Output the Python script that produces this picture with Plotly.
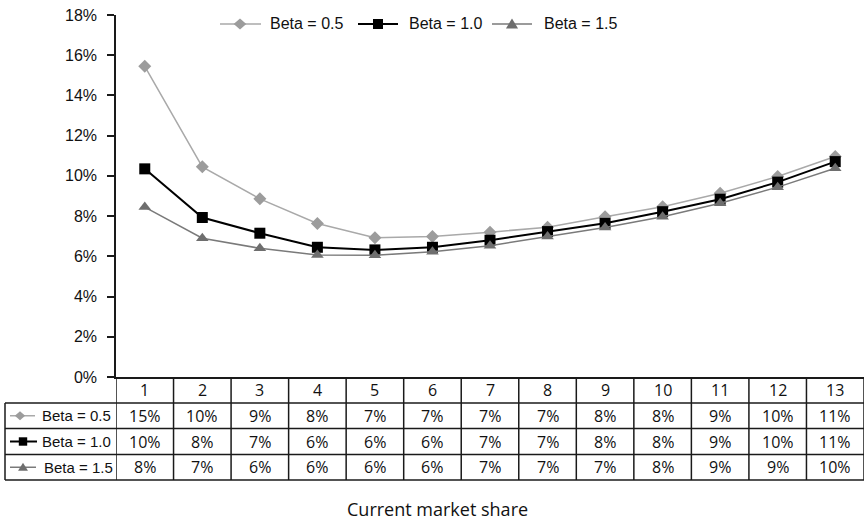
import plotly.graph_objects as go

# Required return by current market share, for three beta levels
market_share = list(range(1, 14))
series_names = ["Beta = 0.5", "Beta = 1.0", "Beta = 1.5"]
beta_05 = [0.1545, 0.1045, 0.0886, 0.0763, 0.0693, 0.0698, 0.0720, 0.0745, 0.0797, 0.0847, 0.0914, 0.0997, 0.1096]
beta_10 = [0.1035, 0.0793, 0.0715, 0.0645, 0.0632, 0.0645, 0.0680, 0.0723, 0.0764, 0.0822, 0.0884, 0.0969, 0.1071]
beta_15 = [0.0845, 0.0690, 0.0640, 0.0607, 0.0605, 0.0623, 0.0653, 0.0698, 0.0743, 0.0797, 0.0864, 0.0944, 0.1038]
y_ticks = [0, 0.02, 0.04, 0.06, 0.08, 0.10, 0.12, 0.14, 0.16, 0.18]
x_title = "Current market share"

W, H = 865, 521


def X(px):
    return px / W


def Y(py):
    return 1 - py / H


styles = [
    dict(symbol="diamond", size=10, mcolor="#9c9c9c", lcolor="#a9a9a9", lwidth=1.5),
    dict(symbol="square", size=11, mcolor="#000000", lcolor="#000000", lwidth=2),
    dict(symbol="triangle-up", size=11, mcolor="#6e6e6e", lcolor="#7a7a7a", lwidth=1.5),
]
series = [beta_05, beta_10, beta_15]

fig = go.Figure()
for name, vals, st in zip(series_names, series, styles):
    fig.add_trace(go.Scatter(
        x=market_share, y=vals, name=name, mode="lines+markers",
        line=dict(color=st["lcolor"], width=st["lwidth"]),
        marker=dict(symbol=st["symbol"], size=st["size"], color=st["mcolor"], line=dict(width=0)),
        showlegend=False, cliponaxis=False,
    ))

plot_left, plot_right, plot_top, plot_bottom = 116, 864, 15, 377
table_left = 5
row_edges = [377, 403, 428.5, 454.5, 480]

shapes = []
annotations = []
line_col = "#1a1a1a"

# table grid
for k in range(len(market_share) + 1):
    shapes.append(dict(type="line", xref="x", yref="paper", x0=k + 0.5, x1=k + 0.5,
                       y0=Y(row_edges[0]), y1=Y(row_edges[-1]),
                       line=dict(color=line_col, width=1.5)))
for r in row_edges[1:]:
    shapes.append(dict(type="line", xref="paper", yref="paper", x0=X(table_left), x1=X(plot_right),
                       y0=Y(r), y1=Y(r), line=dict(color=line_col, width=1.5)))
shapes.append(dict(type="line", xref="paper", yref="paper", x0=X(table_left), x1=X(table_left),
                   y0=Y(row_edges[1]), y1=Y(row_edges[-1]), line=dict(color=line_col, width=1.5)))

table_font = dict(family="Open Sans, Noto Sans, sans-serif", size=16, color="#111111")
label_font = dict(family="Liberation Sans, Arial, sans-serif", size=15, color="#111111")

# header row: category numbers
for c in market_share:
    annotations.append(dict(x=c, y=Y((row_edges[0] + row_edges[1]) / 2), xref="x", yref="paper",
                            text=str(c), showarrow=False, font=table_font,
                            xanchor="center", yanchor="middle"))

# value rows
for i, vals in enumerate(series):
    cy = (row_edges[i + 1] + row_edges[i + 2]) / 2
    for c, v in zip(market_share, vals):
        annotations.append(dict(x=c, y=Y(cy), xref="x", yref="paper",
                                text=f"{int(v * 100 + 0.5)}%", showarrow=False, font=table_font,
                                xanchor="center", yanchor="middle"))


def key_shapes(x0, x1, cx, cy, st, half):
    out = [dict(type="line", xref="paper", yref="paper", x0=X(x0), x1=X(x1), y0=Y(cy), y1=Y(cy),
                line=dict(color=st["lcolor"], width=st["lwidth"]))]
    if st["symbol"] == "diamond":
        pts = [(cx - half * 1.15, cy), (cx, cy - half), (cx + half * 1.15, cy), (cx, cy + half)]
    elif st["symbol"] == "square":
        pts = [(cx - half, cy - half), (cx + half, cy - half), (cx + half, cy + half), (cx - half, cy + half)]
    else:
        pts = [(cx - half * 1.1, cy + half * 0.8), (cx, cy - half), (cx + half * 1.1, cy + half * 0.8)]
    path = "M " + " L ".join(f"{X(px):.5f},{Y(py):.5f}" for px, py in pts) + " Z"
    out.append(dict(type="path", xref="paper", yref="paper", path=path,
                    fillcolor=st["mcolor"], line=dict(width=0)))
    return out


# row label keys
key_geo = [(10, 35, 20, 4.5, 40), (10, 37, 23, 4.2, 40), (10, 36, 23, 4.5, 42)]
for i, (name, st) in enumerate(zip(series_names, styles)):
    cy = (row_edges[i + 1] + row_edges[i + 2]) / 2
    x0, x1, cx, half, tx = key_geo[i]
    shapes += key_shapes(x0, x1, cx, cy, st, half)
    annotations.append(dict(x=X(tx), y=Y(cy), xref="paper", yref="paper", text=name,
                            showarrow=False, font=label_font, xanchor="left", yanchor="middle"))

# top legend
legend_geo = [(220, 261, 240, 5.5, 268), (358, 398, 378, 5.0, 407), (492, 532, 512, 5.5, 542)]
legend_y = 24
for name, st, (x0, x1, cx, half, tx) in zip(series_names, styles, legend_geo):
    shapes += key_shapes(x0, x1, cx, legend_y, st, half)
    annotations.append(dict(x=X(tx), y=Y(legend_y), xref="paper", yref="paper", text=name,
                            showarrow=False, font=dict(family="Liberation Sans, Arial, sans-serif",
                                                       size=16, color="#111111"),
                            xanchor="left", yanchor="middle"))

# axis title under the table
annotations.append(dict(x=X(437), y=Y(509), xref="paper", yref="paper", text=x_title,
                        showarrow=False, font=dict(family="Open Sans, Noto Sans, sans-serif",
                                                   size=18, color="#111111"),
                        xanchor="center", yanchor="middle"))

fig.update_layout(
    width=W, height=H, autosize=False,
    margin=dict(l=0, r=0, t=0, b=0, autoexpand=False),
    paper_bgcolor="white", plot_bgcolor="white",
    shapes=shapes, annotations=annotations,
    xaxis=dict(domain=[X(plot_left), X(plot_right)], range=[0.5, 13.5], automargin=False,
               showticklabels=False, ticks="", showgrid=False, zeroline=False,
               showline=True, linecolor=line_col, linewidth=1.5),
    yaxis=dict(domain=[Y(plot_bottom), Y(plot_top)], range=[0, 0.18], automargin=False,
               tickvals=y_ticks, tickformat=".0%", ticks="outside", ticklen=7,
               tickcolor=line_col, tickwidth=1.5, showgrid=False, zeroline=False,
               showline=True, linecolor=line_col, linewidth=1.5,
               ticklabelstandoff=7,
               tickfont=dict(family="Liberation Sans, Arial, sans-serif", size=16, color="#111111")),
)

fig.write_html("out.html")
